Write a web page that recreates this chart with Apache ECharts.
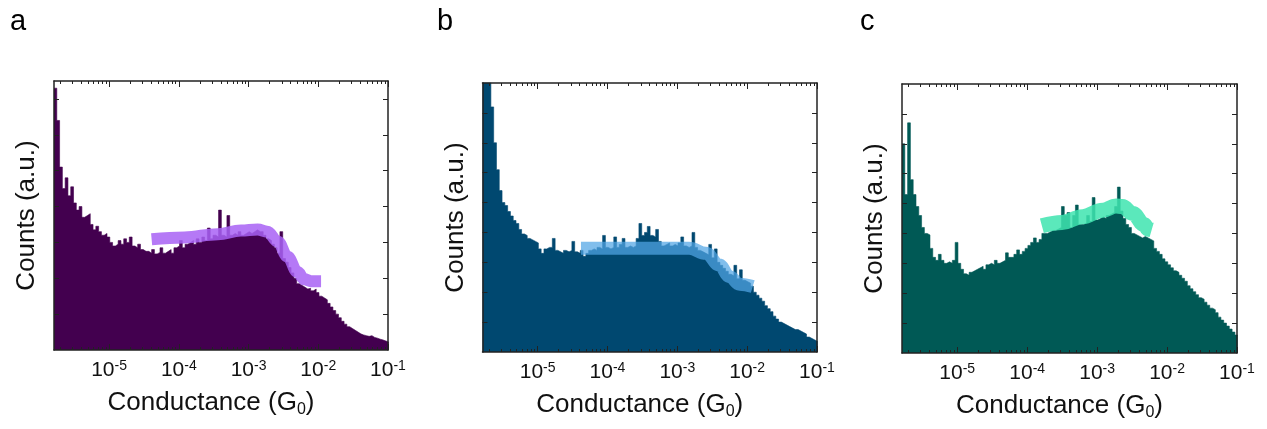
<!DOCTYPE html>
<html><head><meta charset="utf-8">
<script src="https://cdn.jsdelivr.net/npm/echarts@6/dist/echarts.min.js"></script>
<style>html,body{margin:0;padding:0;background:#fff;}#c{width:1267px;height:429px;}</style>
</head><body><div id="c"></div>
<script>
// Histogram bins in log10(G/G0)
const binStart = -5.79;
const binWidth = 0.04;
const axisMaxLog = -1;

const countsA = [7.3,6.4,5.1,4.5,4.8,4.3,4.55,4.1,3.9,4.0,3.7,3.75,3.8,3.5,3.35,3.45,3.3,3.2,3.25,3.15,
3.0,2.9,2.95,3.05,2.95,3.1,3.0,3.15,2.9,2.85,2.95,2.8,2.75,2.75,2.7,2.8,2.68,2.72,2.85,2.7,
2.75,2.8,2.7,2.85,2.9,3.05,2.85,2.95,3.0,3.05,2.95,3.1,3.0,3.15,3.05,3.4,3.1,3.2,3.15,3.9,
3.2,3.15,3.75,3.2,3.25,3.2,3.3,3.2,3.25,3.3,3.25,3.3,3.35,3.3,3.3,3.2,3.1,3.05,2.95,2.85,
2.7,3.3,2.55,2.45,2.3,2.15,2.0,1.85,1.8,1.75,1.7,1.72,1.65,1.7,1.6,1.5,1.45,1.4,1.3,1.2,
1.1,1.0,0.9,0.8,0.72,0.65,0.6,0.55,0.5,0.45,0.42,0.4,0.38,0.4,0.35,0.33,0.3,0.28,0.25,0.22];

const countsB = [9.5,9.5,9.2,8.2,7.0,6.1,5.4,5.0,4.9,4.7,4.55,4.4,4.3,4.1,3.95,3.9,3.8,3.75,3.7,3.65,
3.45,3.3,3.45,3.5,3.5,3.8,3.4,3.35,3.3,3.4,3.35,3.4,3.7,3.35,3.3,3.4,3.2,3.3,3.4,3.45,
3.4,3.5,3.45,3.9,3.5,3.45,3.5,3.85,3.5,3.6,3.8,3.5,3.55,3.5,3.55,3.8,4.3,3.9,4.0,4.2,
3.9,3.85,4.1,3.7,3.55,3.6,3.65,3.55,3.6,3.55,3.65,3.85,3.55,3.5,3.55,4.0,3.5,3.4,3.35,3.3,
3.25,3.6,3.15,3.45,3.0,2.9,2.8,2.7,2.6,2.55,2.9,2.45,2.75,2.4,2.35,2.3,2.2,2.0,1.9,1.8,
1.7,1.55,1.45,1.35,1.2,1.1,1.0,0.95,0.9,0.85,0.8,0.75,0.75,0.7,0.65,0.6,0.5,0.45,0.4,0.35];

const countsC = [7.0,5.3,7.7,5.8,5.3,4.9,4.6,4.2,4.0,3.95,3.5,3.2,3.1,3.3,3.1,3.0,3.05,3.0,3.1,3.7,
3.0,2.8,2.65,2.6,2.7,2.75,2.8,2.85,2.9,2.8,2.95,3.0,2.95,3.1,3.0,3.05,3.1,3.35,3.2,3.2,
3.3,3.45,3.3,3.4,3.5,3.6,3.7,3.85,3.7,3.8,4.0,4.0,4.05,4.1,4.1,4.15,4.2,4.9,4.6,4.7,
4.2,4.6,4.95,4.3,4.3,4.35,4.6,4.4,5.2,4.45,4.5,4.55,4.5,4.6,4.65,4.7,4.9,5.55,4.75,4.5,
4.3,4.2,4.0,3.95,3.9,3.85,3.9,3.85,3.8,3.75,3.5,3.4,3.3,3.15,3.05,2.95,2.85,2.75,2.7,2.6,
2.5,2.4,2.25,2.15,2.05,1.95,1.85,1.8,1.7,1.6,1.5,1.45,1.35,1.2,1.1,1.0,0.9,0.8,0.7,0.6];

// Highlight bands (log10 G, counts)
const bandALogG = [-4.39,-3.92,-3.44,-3.11,-2.87,-2.73,-2.58,-2.44,-2.30,-2.20,-2.10,-1.96];
const bandALevel = [3.09,3.14,3.23,3.33,3.36,3.30,3.02,2.60,2.18,1.97,1.92,1.92];
const bandBLogG = [-4.38,-3.60,-2.83,-2.59,-2.40,-2.25,-2.11,-1.92];
const bandBLevel = [3.47,3.47,3.47,3.30,2.91,2.52,2.27,2.19];
const bandCLogG = [-3.79,-3.50,-3.21,-2.92,-2.73,-2.64,-2.49,-2.33,-2.27,-2.22];
const bandCLevel = [4.26,4.37,4.56,4.78,4.92,4.90,4.67,4.30,4.14,4.12];

// Axis ticks / labels
const decades = [-5,-4,-3,-2,-1];
const tickLabels = ['10{s|-5}','10{s|-4}','10{s|-3}','10{s|-2}','10{s|-1}'];
const yTicksA = [1,2,3,4,5,6,7];
const yTicksBC = [1,2,3,4,5,6,7,8];
const yMaxes = [7.5,9,9];
const panelLetters = ['a','b','c'];
const xTitle = 'Conductance (G{sub|0})';
const yTitle = 'Counts (a.u.)';

const fillColors = ['#43004f','#004870','#005955'];
const bandColors = ['rgba(168,98,245,0.85)','rgba(80,165,228,0.72)','rgba(62,228,175,0.85)'];
const bandWidths = [12,13,15];

const minorTicks = [];
for (let d = -6; d <= -2; d++) {
  for (let k = 2; k <= 9; k++) {
    const v = d + Math.log10(k);
    if (v > binStart && v < axisMaxLog) minorTicks.push(v);
  }
}

const FONT = "'Liberation Sans', Arial, Helvetica, sans-serif";
const grids = [
  {left:54, top:81, width:334, height:269},
  {left:482.5, top:83, width:334.5, height:269},
  {left:902, top:84, width:335, height:269}
];
const frame = {color:'#222', width:1.5};

const xAxes = [], yAxes = [], series = [];
const countsList = [countsA, countsB, countsC];
const bandLog = [bandALogG, bandBLogG, bandCLogG];
const bandLev = [bandALevel, bandBLevel, bandCLevel];
const yTickList = [yTicksA, yTicksBC, yTicksBC];

grids.forEach((g, p) => {
  const base = {type:'value', gridIndex:p, min:binStart, max:axisMaxLog, splitLine:{show:false}, z:5};
  xAxes.push(Object.assign({}, base, {
    position:'bottom',
    axisLine:{show:true, onZero:false, lineStyle:frame},
    axisTick:{show:true, inside:true, length:6, customValues:decades, lineStyle:{color:'#222', width:1}},
    axisLabel:{show:true, customValues:decades, margin:9, fontSize:21, lineHeight:23, color:'#111', fontFamily:FONT,
      formatter:(v)=>{const i = decades.indexOf(Math.round(v)); return i>=0 ? tickLabels[i] : '';},
      rich:{s:{fontSize:14, lineHeight:14, verticalAlign:'top', fontFamily:FONT, color:'#111'}}},
    name:xTitle, nameLocation:'middle', nameGap:38,
    nameTextStyle:{fontSize:26, lineHeight:30, color:'#111', fontFamily:FONT, padding:[0,20,0,0],
      rich:{sub:{fontSize:16, lineHeight:16, verticalAlign:'bottom', fontFamily:FONT, color:'#111'}}}
  }));
  xAxes.push(Object.assign({}, base, {
    position:'bottom', axisLine:{show:false, onZero:false},
    axisTick:{show:true, inside:true, length:3, customValues:minorTicks, lineStyle:{color:'#222', width:1}},
    axisLabel:{show:false}
  }));
  xAxes.push(Object.assign({}, base, {
    position:'top', axisLine:{show:true, onZero:false, lineStyle:frame},
    axisTick:{show:true, inside:true, length:6, customValues:decades, lineStyle:{color:'#222', width:1}},
    axisLabel:{show:false}
  }));
  xAxes.push(Object.assign({}, base, {
    position:'top', axisLine:{show:false, onZero:false},
    axisTick:{show:true, inside:true, length:3, customValues:minorTicks, lineStyle:{color:'#222', width:1}},
    axisLabel:{show:false}
  }));
  const ybase = {type:'value', gridIndex:p, min:0, max:yMaxes[p], splitLine:{show:false}, z:5,
    axisLine:{show:true, onZero:false, lineStyle:frame},
    axisTick:{show:true, inside:true, length:5, customValues:yTickList[p], lineStyle:{color:'#222', width:1}},
    axisLabel:{show:false}};
  yAxes.push(Object.assign({}, ybase, {position:'left', name:yTitle, nameLocation:'middle', nameGap:14,
    nameTextStyle:{fontSize:26, color:'#111', fontFamily:FONT}}));
  yAxes.push(Object.assign({}, ybase, {position:'right'}));

  const counts = countsList[p];
  const hist = counts.map((v, i) => [binStart + i*binWidth, v]);
  hist.push([binStart + counts.length*binWidth, counts[counts.length-1]]);
  series.push({type:'line', xAxisIndex:4*p, yAxisIndex:2*p, data:hist, step:'end', symbol:'none',
    clip:true, z:2, lineStyle:{color:fillColors[p], width:0.6}, areaStyle:{color:fillColors[p], opacity:1},
    silent:true});
  series.push({type:'line', xAxisIndex:4*p, yAxisIndex:2*p,
    data:bandLog[p].map((x, i) => [x, bandLev[p][i]]), smooth:0.4, smoothMonotone:'x', symbol:'none',
    z:3, lineStyle:{color:bandColors[p], width:bandWidths[p], cap:'butt', join:'round'}, silent:true});
});

const letterX = [10, 437, 860];
const graphics = panelLetters.map((t, i) => ({type:'text', left:letterX[i], top:7,
  style:{text:t, fontSize:29, fill:'#000', fontFamily:FONT}}));

const chart = echarts.init(document.getElementById('c'), null, {renderer:'canvas'});
chart.setOption({
  animation:false,
  backgroundColor:'#fff',
  grid:grids,
  xAxis:xAxes,
  yAxis:yAxes,
  series:series,
  graphic:graphics
});
</script></body></html>
